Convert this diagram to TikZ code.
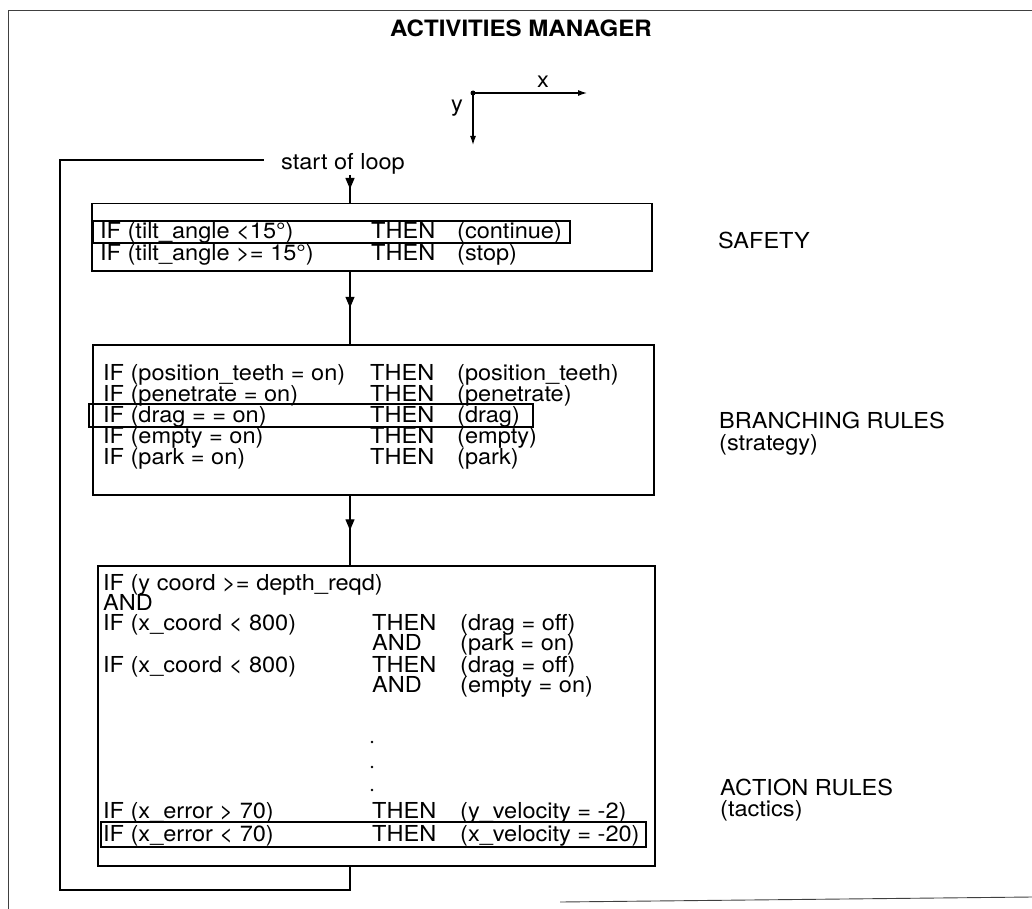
\documentclass[tikz,border=0pt]{standalone}
\usepackage{fontspec}
\setmainfont[FakeStretch=1.07]{TeX Gyre Heros}
\usetikzlibrary{arrows.meta, decorations.markings}

\tikzset{
  rulebox/.style={draw, line width=1.5pt, anchor=north west, inner sep=0pt},
  hlbox/.style={line width=1.3pt},
  rowtext/.style={anchor=base west, inner sep=0pt, font=\fontsize{22}{24}\selectfont},
  sidelabel/.style={rowtext},
  flow/.style={line width=1.4pt},
  midarrow/.style={postaction={decorate},
    decoration={markings, mark=at position 0.5 with {\arrow{Triangle[width=9pt,length=11pt]}}}},
  pageframe/.style={line width=0.9pt, black!75}
}

\begin{document}
\begin{tikzpicture}[x=1pt, y=-1pt]
  \useasboundingbox (0,0) rectangle (1032,909);
  % page frame of the figure
  \draw[pageframe] (1032,10) -- (8,10) -- (8,909);
  \draw[pageframe] (560,902) -- (1032,897);

  \node[font=\fontsize{22.5}{25}\selectfont\bfseries, anchor=base, inner sep=0pt] (title) at (521,37) {ACTIVITIES MANAGER};

  % axes
  \coordinate (origin) at (473,93);
  \coordinate (xend) at (587,93);
  \coordinate (yend) at (473,145);
  \fill (origin) circle (2.5pt);
  \draw[line width=1.2pt, -{Latex[length=9pt,width=6pt]}] (origin) -- (xend);
  \draw[line width=1.2pt, -{Latex[length=9pt,width=6pt]}] (origin) -- (yend);
  \node[rowtext] (xlab) at (537,88) {x};
  \node[rowtext] (ylab) at (451,112) {y};

  % the three rule blocks
  \node[rulebox, minimum width=560pt, minimum height=67pt] (safety) at (91,203) {};
  \node[rulebox, minimum width=561pt, minimum height=150pt] (branch) at (92,344) {};
  \node[rulebox, minimum width=557pt, minimum height=300pt] (action) at (97,565) {};

  % safety rules
  \foreach \y/\a/\b/\c [count=\i] in {239/IF (tilt\_angle <15°)/THEN/(continue),
      260/IF (tilt\_angle >= 15°)/THEN/(stop)} {
    \node[rowtext] (sif\i) at (100,\y) {\a};
    \node[rowtext] (sthen\i) at (371,\y) {\b};
    \node[rowtext] (sdo\i) at (457,\y) {\c};
  }
  \draw[hlbox] (93,221) rectangle (570,243);

  % branching rules
  \foreach \y/\a/\b/\c [count=\i] in {380/IF (position\_teeth = on)/THEN/(position\_teeth),
      401/IF (penetrate = on)/THEN/(penetrate),
      422/IF (drag = = on)/THEN/(drag),
      443/IF (empty = on)/THEN/(empty),
      464/IF (park = on)/THEN/(park)} {
    \node[rowtext] (bif\i) at (103,\y) {\a};
    \node[rowtext] (bthen\i) at (370,\y) {\b};
    \node[rowtext] (bdo\i) at (457,\y) {\c};
  }
  \draw[hlbox] (89,404) rectangle (533,427);

  % action rules
  \foreach \y/\a/\b/\c [count=\i] in {590/IF (y coord >= depth\_reqd)//,
      610/AND//,
      630/IF (x\_coord < 800)/THEN/(drag = off),
      650//AND/(park = on),
      672/IF (x\_coord < 800)/THEN/(drag = off),
      692//AND/(empty = on),
      818/IF (x\_error > 70)/THEN/(y\_velocity = -2),
      841/IF (x\_error < 70)/THEN/(x\_velocity = -20)} {
    \node[rowtext] (aif\i) at (103,\y) {\a};
    \node[rowtext] (athen\i) at (372,\y) {\b};
    \node[rowtext] (ado\i) at (460,\y) {\c};
  }
  \foreach \y [count=\i] in {742,767,790}
    \node[circle, fill, inner sep=1pt] (dot\i) at (372,\y) {};
  \draw[hlbox] (101,822) rectangle (646,847);

  % labels on the right
  \node[sidelabel] (safetylbl) at (718,248) {SAFETY};
  \node[sidelabel] (branchlbl) at (719,428) {BRANCHING RULES};
  \node[sidelabel] (stratlbl) at (719,450) {(strategy)};
  \node[sidelabel] (actionlbl) at (720,795) {ACTION RULES};
  \node[sidelabel] (tactlbl) at (720,816) {(tactics)};

  % control loop
  \node[rowtext] (start) at (281,170) {start of loop};
  \coordinate (spine) at (350,0);
  \coordinate (loopbot) at (350,890);
  \coordinate (looptop) at (60,160);
  \coordinate (loopend) at (264,160);
  \draw[flow, midarrow] (start.south -| spine) -- (spine |- safety.north);
  \draw[flow, midarrow] (spine |- safety.south) -- (spine |- branch.north);
  \draw[flow, midarrow] (spine |- branch.south) -- (spine |- action.north);
  \draw[flow] (spine |- action.south) -- (loopbot) -| (looptop) -- (loopend);
\end{tikzpicture}
\end{document}
